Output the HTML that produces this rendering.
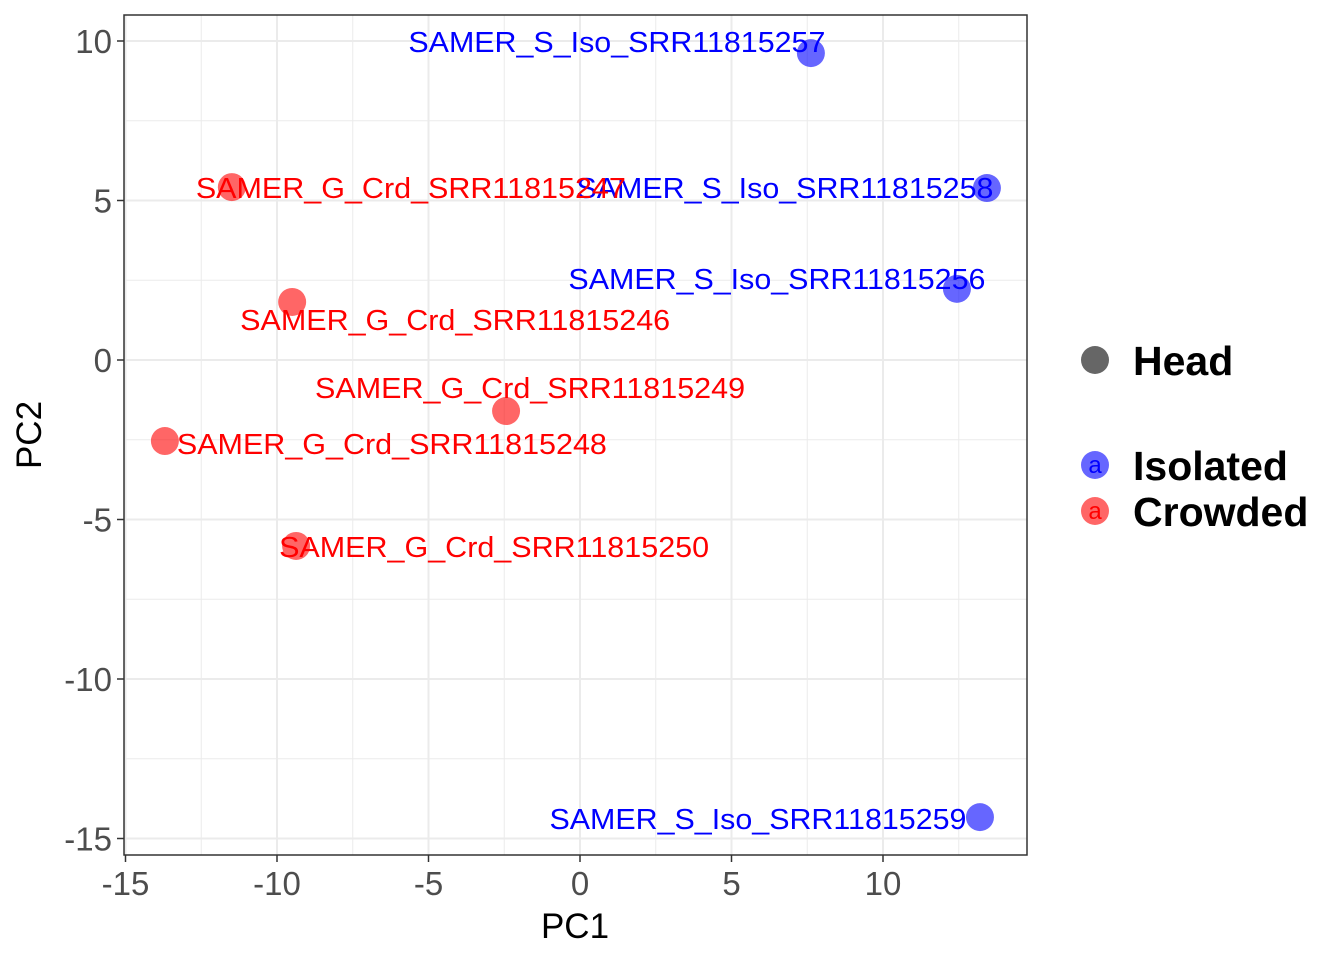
<!DOCTYPE html>
<html><head><meta charset="utf-8"><style>
body{margin:0;background:#fff}
svg{display:block;font-family:"Liberation Sans",Arial,sans-serif}
</style></head><body>
<svg id="c" width="1344" height="960"></svg>
<script>
const names=["SAMER_S_Iso_SRR11815257","SAMER_S_Iso_SRR11815258","SAMER_S_Iso_SRR11815256","SAMER_S_Iso_SRR11815259","SAMER_G_Crd_SRR11815247","SAMER_G_Crd_SRR11815246","SAMER_G_Crd_SRR11815249","SAMER_G_Crd_SRR11815248","SAMER_G_Crd_SRR11815250"];
const pc1=[7.62,13.43,12.44,13.2,-11.49,-9.5,-2.44,-13.7,-9.37];
const pc2=[9.62,5.39,2.23,-14.33,5.42,1.82,-1.6,-2.54,-5.83];
const groups=["Isolated","Isolated","Isolated","Isolated","Crowded","Crowded","Crowded","Crowded","Crowded"];
const xTicks=[-15,-10,-5,0,5,10];
const yTicks=[10,5,0,-5,-10,-15];
const labDx=[-194,-202,-180,-222,179,163,24,227,198];
const labDy=[-11,0,-10,2,1,18,-23,3,1];
const NS="http://www.w3.org/2000/svg";
const svg=document.getElementById('c');
const L=124,R=1027,T=15,B=855;
const sx=v=>580+v*30.3, sy=v=>360-v*31.9;
function mk(t,a,p){const e=document.createElementNS(NS,t);for(const k in a)e.setAttribute(k,a[k]);(p||svg).appendChild(e);return e;}
const grid=mk('g',{});
mk('rect',{x:L,y:T,width:R-L,height:B-T,fill:'#fff'},grid);
for(let v=-15;v<=12.5;v+=2.5){const x=sx(v);if(x<L||x>R)continue;mk('line',{x1:x,x2:x,y1:T,y2:B,stroke:'#ebebeb','stroke-width':v%5===0?2:1},grid);}
for(let v=-15;v<=10;v+=2.5){const y=sy(v);mk('line',{x1:L,x2:R,y1:y,y2:y,stroke:'#ebebeb','stroke-width':v%5===0?2:1},grid);}
const col={Isolated:'#0000ff',Crowded:'#ff0000'};
const pts=mk('g',{});
for(let i=0;i<names.length;i++){
 const c=mk('circle',{cx:sx(pc1[i]),cy:sy(pc2[i]),r:14,fill:col[groups[i]],'fill-opacity':0.6},pts);
 
 
}
for(let i=0;i<names.length;i++){
 const t=mk('text',{x:sx(pc1[i])+labDx[i],y:sy(pc2[i])+labDy[i]+10,'text-anchor':'middle','font-size':29,fill:col[groups[i]],textLength:groups[i]==='Isolated'?417:430,lengthAdjust:'spacingAndGlyphs'},pts);
 t.textContent=names[i];
 
 
}
mk('rect',{x:L,y:T,width:R-L,height:B-T,fill:'none',stroke:'#333','stroke-width':1.5});
xTicks.forEach(v=>{const x=sx(v);mk('line',{x1:x,x2:x,y1:B,y2:B+7,stroke:'#333','stroke-width':1.5});
 const t=mk('text',{x:x,y:B+40,'text-anchor':'middle','font-size':33,fill:'#4d4d4d'});t.textContent=v;
 });
yTicks.forEach(v=>{const y=sy(v);mk('line',{x1:L-7,x2:L,y1:y,y2:y,stroke:'#333','stroke-width':1.5});
 const t=mk('text',{x:L-12,y:y+12,'text-anchor':'end','font-size':33,fill:'#4d4d4d'});t.textContent=v;
 });
let t=mk('text',{x:575,y:938,'text-anchor':'middle','font-size':35});t.textContent='PC1';
t=mk('text',{x:0,y:0,'text-anchor':'middle','font-size':35,transform:'translate(41,435) rotate(-90)'});t.textContent='PC2';
const lg=mk('g',{});
mk('circle',{cx:1095,cy:360,r:14,fill:'#666'},lg);
t=mk('text',{x:1133,y:375,'font-size':41,'font-weight':'bold'},lg);t.textContent='Head';
[['Isolated',465,'#0000ff'],['Crowded',511,'#ff0000']].forEach(([n,y,c])=>{
 mk('circle',{cx:1095,cy:y,r:14,fill:c,'fill-opacity':0.6},lg);
 const a=mk('text',{x:1095,y:y+8,'text-anchor':'middle','font-size':24,fill:c},lg);a.textContent='a';
 const tt=mk('text',{x:1133,y:y+15,'font-size':41,'font-weight':'bold'},lg);tt.textContent=n;
 
});
</script>
</body></html>
